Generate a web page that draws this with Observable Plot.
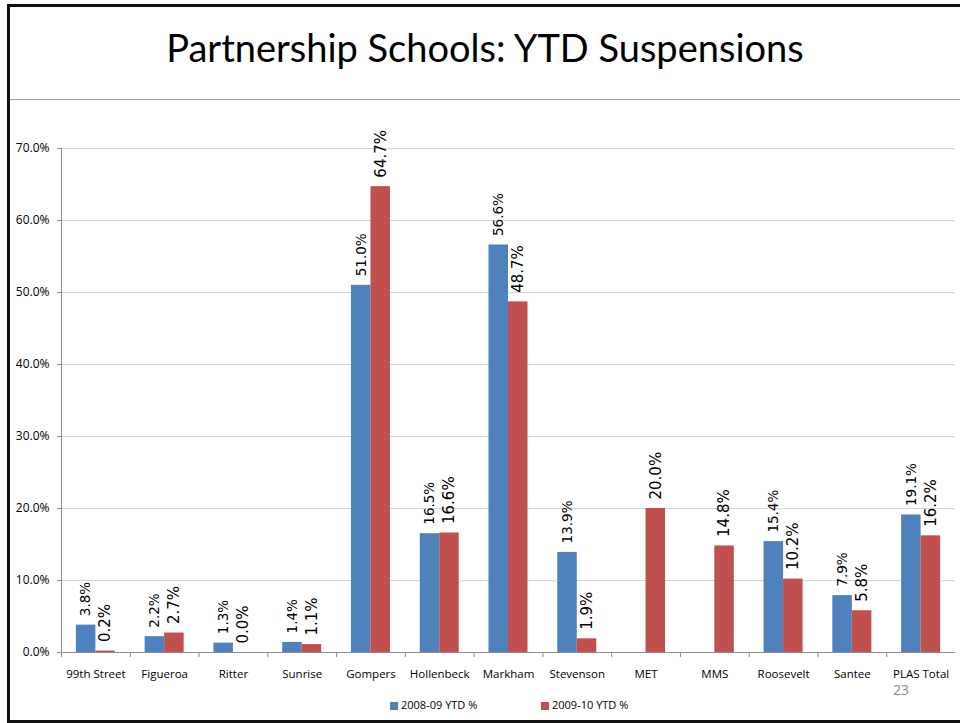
<!DOCTYPE html>
<html>
<head>
<meta charset="utf-8">
<script src="https://cdn.jsdelivr.net/npm/d3@7"></script>
<script src="https://cdn.jsdelivr.net/npm/@observablehq/plot@0.6"></script>
<style>
  html, body { margin: 0; padding: 0; background: #fff; }
  #page { position: relative; width: 960px; height: 723px; overflow: hidden; font-family: "Open Sans", sans-serif; }
  #frame { position: absolute; left: 7px; top: 4px; width: 1000px; height: 713px; border: 3px solid #111; box-sizing: content-box; }
  #title { position: absolute; left: 10px; right: 0; top: 24px; text-align: center; font-family: Lato, sans-serif; font-size: 38px; color: #000; }
  #rule { position: absolute; left: 10px; width: 960px; top: 99px; height: 0; border-top: 1px solid #a0a0a0; }
  #chart { position: absolute; left: 0; top: 0; }
  #legend { position: absolute; top: 697px; left: 0; width: 960px; font-size: 11px; color: #000; }
  .sw { position: absolute; width: 8px; height: 8px; top: 5px; }
  .lt { position: absolute; top: 0; }
  #pnum { position: absolute; left: 893px; top: 682px; font-size: 14px; line-height: 16px; color: #8c8c8c; font-family: "Open Sans", sans-serif; }
</style>
</head>
<body>
<div id="page">
  <div id="frame"></div>
  <div id="title">Partnership Schools: YTD Suspensions</div>
  <div id="rule"></div>
  <div id="chart"></div>
  <div id="pnum">23</div>
  <div id="legend">
    <div class="sw" style="left:390px;background:#4F81BD"></div><div class="lt" style="left:401px">2008-09 YTD %</div>
    <div class="sw" style="left:541px;background:#C0504D"></div><div class="lt" style="left:552px">2009-10 YTD %</div>
  </div>
</div>
<script>
const schools = ["99th Street","Figueroa","Ritter","Sunrise","Gompers","Hollenbeck","Markham","Stevenson","MET","MMS","Roosevelt","Santee","PLAS Total"];
const ytd0809 = [3.8, 2.2, 1.3, 1.4, 51.0, 16.5, 56.6, 13.9, null, null, 15.4, 7.9, 19.1];
const ytd0910 = [0.2, 2.7, 0.0, 1.1, 64.7, 16.6, 48.7, 1.9, 20.0, 14.8, 10.2, 5.8, 16.2];
const yTicks = [0, 10, 20, 30, 40, 50, 60, 70];

const blue = "#4F81BD", red = "#C0504D";
const d0809 = schools.map((s, i) => ({school: s, v: ytd0809[i]})).filter(d => d.v != null);
const d0910 = schools.map((s, i) => ({school: s, v: ytd0910[i]})).filter(d => d.v != null);
const pct = v => v.toFixed(1) + "%";

const W = 960, H = 700;
const step = (955 - 61) / schools.length;
const half = step / 2;
const barW = 19.5;
const outer = half - barW;

const chart = Plot.plot({
  width: W,
  height: H,
  marginTop: 148,
  marginBottom: 48,
  marginLeft: 61,
  marginRight: 5,
  style: {background: "transparent", fontFamily: "Open Sans, sans-serif", color: "#000"},
  x: {domain: schools, padding: 0, round: false},
  y: {domain: [0, 70]},
  marks: [
    Plot.gridY(yTicks, {stroke: "#d4d4d4", strokeOpacity: 1}),
    Plot.barY(d0809, {x: "school", y: "v", fill: blue, insetLeft: outer, insetRight: half}),
    Plot.barY(d0910, {x: "school", y: "v", fill: red, insetLeft: half, insetRight: outer}),
    Plot.text(d0809, {x: "school", y: "v", text: d => pct(d.v), rotate: -90, textAnchor: "start", dx: -barW/2, dy: -9, fontSize: 13.5, fill: "#000", fontFamily: "DejaVu Sans, sans-serif"}),
    Plot.text(d0910, {x: "school", y: "v", text: d => pct(d.v), rotate: -90, textAnchor: "start", dx: barW/2, dy: -9, fontSize: 15, fill: "#000", fontFamily: "DejaVu Sans, sans-serif"}),
    Plot.ruleY([0], {stroke: "#8c8c8c"}),
    Plot.frame({anchor: "left", stroke: "#8c8c8c"}),
    Plot.axisY(yTicks, {tickSize: 4, tickPadding: 8, tickFormat: pct, fontSize: 12, stroke: "#8c8c8c", label: null}),
    Plot.axisX({tickSize: 0, tickPadding: 17, fontSize: 11.5, label: null}),
    Plot.axisX({tickSize: 5, tickFormat: () => "", dx: -half, stroke: "#8c8c8c", label: null})
  ]
});
document.getElementById("chart").appendChild(chart);
</script>
</body>
</html>
